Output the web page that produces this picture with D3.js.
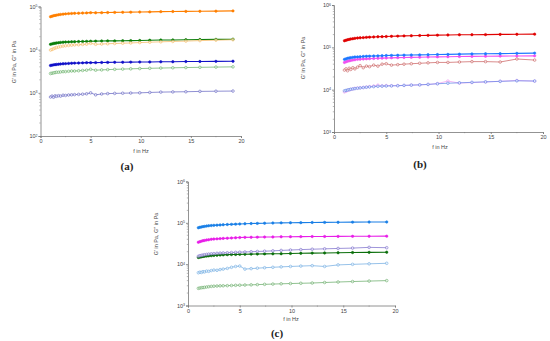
<!DOCTYPE html>
<html lang="en">
<head>
<meta charset="utf-8">
<title>G' and G'' vs frequency</title>
<script src="https://d3js.org/d3.v7.min.js"></script>
<style type="text/css">
body { margin: 0; background: #fff; }
svg { display: block; }
.axis path, .axis line { stroke: #777; stroke-width: 0.8px; }
.axis text { font-family: "Liberation Sans", sans-serif; font-size: 5.5px; fill: #444; }
.minor line { stroke: #888; stroke-width: 0.6px; }
.lbl { font-family: "Liberation Sans", sans-serif; font-size: 5.5px; fill: #444; }
.plab { font-family: "Liberation Serif", serif; font-size: 11px; font-weight: bold; fill: #222; }
</style>
</head>
<body>
<script>

// frequency points, Hz (shared by every curve)
var freq = [1.0,1.15,1.3,1.45,1.6,1.8,2.0,2.25,2.5,2.8,3.1,3.4,3.8,4.2,4.6,5.0,5.5,6.1,6.7,7.4,8.2,9.0,9.9,10.9,12.0,13.2,14.5,15.9,17.5,19.2];

var xTicks = [0, 5, 10, 15, 20];

// all moduli below in kPa

// panel (a)
var aOrange = [58,59.5,61,62,63,64.5,65.5,66.5,67.5,68.5,69,69.5,70,70.5,71,72,71.5,72,72.5,73,73.5,74,74.5,75,76,76.5,77,77.5,78,79];
var aGreen = [13.3,13.6,13.9,14.1,14.3,14.5,14.7,14.9,15.0,15.1,15.2,15.3,15.4,15.5,15.6,15.7,15.8,15.9,16.0,16.0,16.1,16.2,16.3,16.5,16.7,16.8,17.0,17.2,17.3,17.5];
var aLtOrange = [9.8,10.1,10.5,10.9,11.2,11.5,11.8,12.1,12.3,12.5,12.7,12.9,13.0,13.2,13.4,14.0,13.3,13.5,13.7,13.9,14.1,14.3,14.6,14.9,15.2,15.5,15.8,16.2,16.6,17.0];
var aBlue = [4.3,4.38,4.45,4.5,4.55,4.6,4.65,4.7,4.75,4.8,4.85,4.88,4.9,4.95,5.0,5.0,5.02,5.05,5.07,5.1,5.12,5.15,5.18,5.2,5.23,5.26,5.3,5.33,5.36,5.4];
var aLtGreen = [2.8,2.85,2.9,2.95,3.0,3.0,3.05,3.1,3.1,3.15,3.2,3.2,3.25,3.3,3.35,3.5,3.35,3.4,3.45,3.5,3.55,3.6,3.65,3.7,3.75,3.8,3.85,3.9,3.95,4.0];
var aPurple = [0.80,0.84,0.79,0.85,0.83,0.86,0.84,0.88,0.87,0.89,0.9,0.91,0.92,0.93,0.95,1.0,0.9,0.94,0.96,0.97,0.98,0.99,1.0,1.02,1.04,1.05,1.06,1.08,1.09,1.1];

// panel (b)
var bRed = [143,147,151,154,157,160,163,166,168,170,172,174,176,178,179,180,182,184,186,188,190,192,194,196,198,199,200,202,203,205];
var bBlue = [52,53.5,55,56,57,58,59,59.5,60,61,61.5,62,62.5,63,63.5,64,64.5,65,65.5,66,66.5,67,67.5,68,69,70,70.5,71,72,73];
var bMagenta = [44,45.5,47,48,49,50,51,52,52.5,53,53.5,54,54.5,55,55.5,56,56.5,57,57.5,58,58.5,59,59.5,60,60.5,61,61.5,62,62.5,63];
var bRose = [29,31,28,32,30,33,31,34,37,33,36,35,38,36,40,41,38,39,40,41,42,43,44,44,45,46,46,45,53,50];
var bLtBlue = [9.4,9.6,9.8,10.0,10.2,10.4,10.6,10.8,11.0,11.2,11.4,11.6,11.8,12.0,12.1,12.2,12.3,12.4,12.6,12.8,13.0,13.3,13.8,14.2,14.5,14.9,15.3,15.7,16.2,16.0];
var bPink = [8.8,9.2,9.6,9.9,10.1,10.4,10.7,10.9,11.1,11.3,11.5,11.8,12.2,12.8,12.3,12.5,12.4,12.5,12.6,12.8,13.0,13.3,13.9,16.0,14.3,14.7,15.2,15.8,16.5,15.9];

// panel (c)
var cBlue = [76,78,79.5,81,82,83.5,85,86,87,88,89,90,91,92,93,94,95,96,97,98,99,100,100.5,101,102,102.5,103,104,104.5,105];
var cMagenta = [34,35,36,37,37.5,38.5,39,40,40.5,41,41.5,42,42.5,43,43.5,44,44.5,44.8,45,45.3,45.6,46,46.2,46.4,46.6,46.8,47,47.2,47.4,47.6];
var cPurple = [15.5,16.0,16.3,16.6,16.9,17.2,17.5,17.8,18.0,18.3,18.5,18.7,18.9,19.1,19.3,19.5,19.7,20.0,20.3,20.6,21.0,21.5,22.0,22.5,23.0,23.5,24.0,24.5,25.5,25.0];
var cGreen = [14.5,14.8,15.0,15.3,15.5,15.7,15.9,16.1,16.3,16.5,16.7,16.8,17.0,17.1,17.2,17.3,17.4,17.5,17.6,17.7,17.8,17.9,18.1,18.3,18.5,18.7,18.9,19.1,19.3,19.5];
var cLtBlue = [6.2,6.4,6.3,6.6,6.5,6.8,6.7,7.0,7.2,7.1,7.4,7.6,7.9,8.4,8.8,9.0,7.6,7.8,8.0,8.2,8.4,8.6,8.8,9.0,9.2,8.8,9.6,9.9,10.2,10.5];
var cLtGreen = [2.6,2.65,2.7,2.72,2.75,2.8,2.85,2.9,2.93,2.96,2.99,3.0,3.02,3.05,3.08,3.1,3.13,3.16,3.2,3.25,3.3,3.35,3.4,3.45,3.5,3.6,3.7,3.8,3.9,4.0];

var panels = [
  { name: "(a)", x0: 40.5, x1: 241, yTop: 6.5, yBot: 136, yDomain: [1e2, 1e5],
    yLab: [14, 62], xLab: [141, 152.5], pLab: [127, 170],
    series: [
      { v: aOrange, c: "#ff7f00", open: false },
      { v: aGreen, c: "#0a7d0a", open: false },
      { v: aLtOrange, c: "#f5b55a", open: true },
      { v: aBlue, c: "#1010c8", open: false },
      { v: aLtGreen, c: "#62ad62", open: true },
      { v: aPurple, c: "#6060c0", open: true }
    ] },
  { name: "(b)", x0: 334, x1: 543, yTop: 5, yBot: 132, yDomain: [1e3, 1e6],
    yLab: [303, 58], xLab: [440, 148.5], pLab: [420, 168],
    series: [
      { v: bRed, c: "#e00000", open: false },
      { v: bMagenta, c: "#f050f0", open: false },
      { v: bBlue, c: "#1e78ff", open: false },
      { v: bRose, c: "#c85a5a", open: true },
      { v: bPink, c: "#f09af0", open: true },
      { v: bLtBlue, c: "#5a82e6", open: true }
    ] },
  { name: "(c)", x0: 188, x1: 395, yTop: 181.5, yBot: 305.5, yDomain: [1e3, 1e6],
    yLab: [156, 234], xLab: [291, 320.5], pLab: [277, 337],
    series: [
      { v: cBlue, c: "#1a7fe6", open: false },
      { v: cMagenta, c: "#e81ee8", open: false },
      { v: cGreen, c: "#0a6e0a", open: false },
      { v: cPurple, c: "#7466c8", open: true },
      { v: cLtBlue, c: "#6aa8e0", open: true },
      { v: cLtGreen, c: "#62a862", open: true }
    ] }
];

var svg = d3.select("body").append("svg")
    .attr("width", 550)
    .attr("height", 341);

var sup = { 2: "2", 3: "3", 4: "4", 5: "5", 6: "6" };

panels.forEach(function(p) {
  var g = svg.append("g");

  var xScale = d3.scaleLinear().domain([0, 20]).range([p.x0, p.x1]);
  var yScale = d3.scaleLog().domain(p.yDomain).range([p.yBot, p.yTop]);

  // minor ticks
  var minorY = [];
  for (var e = Math.log10(p.yDomain[0]); e < Math.log10(p.yDomain[1]); e++) {
    for (var m = 2; m < 10; m++) minorY.push(m * Math.pow(10, e));
  }
  g.append("g").attr("class", "minor")
    .attr("transform", "translate(" + p.x0 + ",0)")
    .selectAll("line").data(minorY).enter().append("line")
    .attr("x1", -1.2).attr("x2", 0)
    .attr("y1", function(d) { return yScale(d); })
    .attr("y2", function(d) { return yScale(d); });

  g.append("g").attr("class", "minor")
    .attr("transform", "translate(0," + p.yBot + ")")
    .selectAll("line").data([2.5, 7.5, 12.5, 17.5]).enter().append("line")
    .attr("x1", function(d) { return xScale(d); })
    .attr("x2", function(d) { return xScale(d); })
    .attr("y1", 0).attr("y2", 1.2);

  // axes
  var yMajor = [];
  for (var k = Math.log10(p.yDomain[0]); k <= Math.log10(p.yDomain[1]); k++) yMajor.push(Math.pow(10, k));

  var yAx = g.append("g").attr("class", "axis")
    .attr("transform", "translate(" + p.x0 + ",0)")
    .call(d3.axisLeft(yScale).tickValues(yMajor).tickSize(2).tickPadding(1.5).tickFormat(""));
  yAx.selectAll(".tick").append("text")
    .attr("x", -3).attr("dy", "0.3em")
    .attr("text-anchor", "end")
    .each(function(d) {
      var t = d3.select(this);
      t.append("tspan").text("10");
      t.append("tspan").attr("dy", "-0.45em").style("font-size", "3.6px").text(sup[Math.round(Math.log10(d))]);
    });

  g.append("g").attr("class", "axis")
    .attr("transform", "translate(0," + p.yBot + ")")
    .call(d3.axisBottom(xScale).tickValues(xTicks).tickSize(2).tickPadding(1.5));

  // curves
  var line = d3.line()
    .x(function(d, i) { return xScale(freq[i]); })
    .y(function(d) { return yScale(d * 1000); });

  p.series.forEach(function(s) {
    g.append("path")
      .datum(s.v)
      .attr("d", line)
      .attr("fill", "none")
      .attr("stroke", s.c)
      .attr("stroke-width", s.open ? 0.7 : 1.1);

    g.append("g").selectAll("circle").data(s.v).enter().append("circle")
      .attr("cx", function(d, i) { return xScale(freq[i]); })
      .attr("cy", function(d) { return yScale(d * 1000); })
      .attr("r", s.open ? 1.3 : 1.2)
      .attr("fill", s.open ? "#fff" : s.c)
      .attr("fill-opacity", s.open ? 0.6 : 1)
      .attr("stroke", s.c)
      .attr("stroke-width", 0.6);
  });

  // labels
  g.append("text").attr("class", "lbl")
    .attr("transform", "translate(" + p.yLab[0] + "," + p.yLab[1] + ") rotate(-90)")
    .attr("text-anchor", "middle")
    .attr("dy", "0.35em")
    .text("G\u2032 in Pa, G\u2033 in Pa");

  g.append("text").attr("class", "lbl")
    .attr("x", p.xLab[0]).attr("y", p.xLab[1])
    .attr("text-anchor", "middle")
    .text("f in Hz");

  g.append("text").attr("class", "plab")
    .attr("x", p.pLab[0]).attr("y", p.pLab[1])
    .attr("text-anchor", "middle")
    .text(p.name);
});

</script>
</body>
</html>
